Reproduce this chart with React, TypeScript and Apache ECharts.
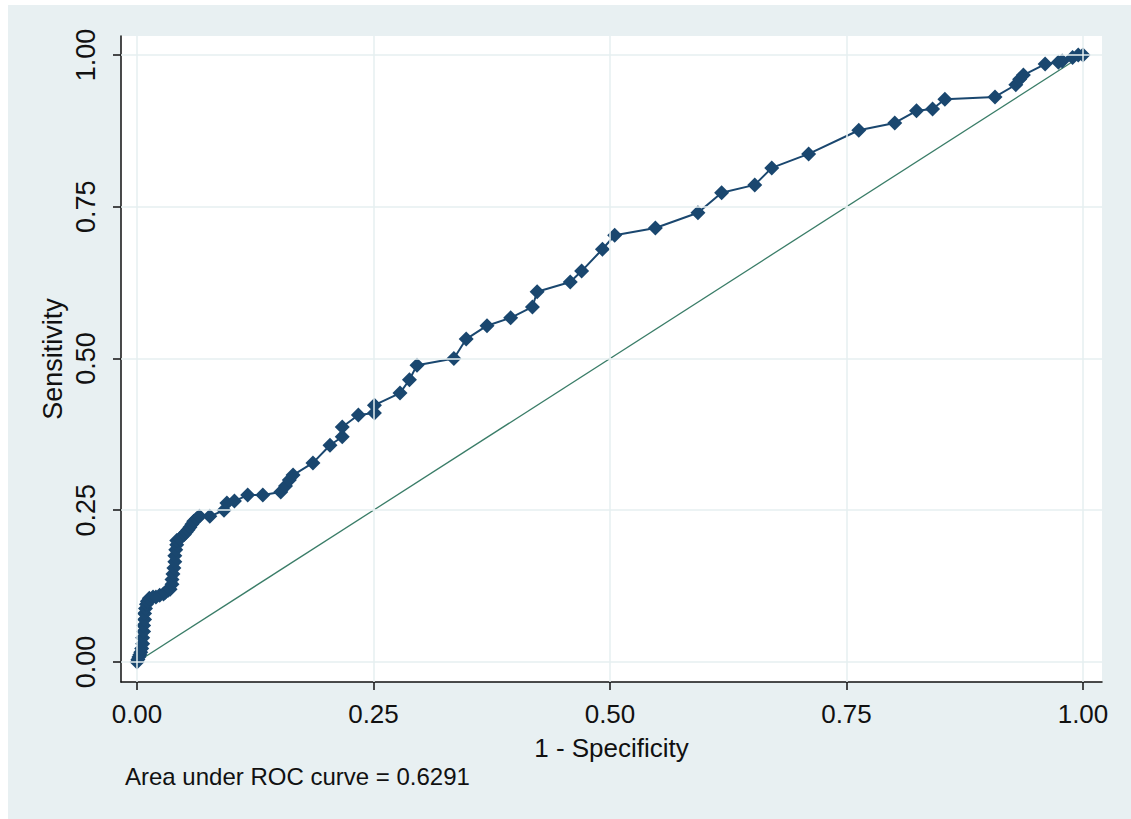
import React, { useEffect, useRef } from "react";
import * as echarts from "echarts";

// ROC curve points (1 - specificity, sensitivity)
const fpr = [
  0, 0.001, 0.002, 0.003, 0.004, 0.005, 0.006, 0.006, 0.007, 0.007, 0.008, 0.008,
  0.009, 0.01, 0.011, 0.013, 0.017, 0.02, 0.024, 0.028,
  0.03, 0.033, 0.035, 0.037, 0.037, 0.038, 0.039, 0.04, 0.04, 0.041, 0.042, 0.042,
  0.045, 0.047, 0.05, 0.052, 0.054, 0.056, 0.058, 0.06, 0.063, 0.066,
  0.077, 0.092, 0.095, 0.103, 0.117, 0.133, 0.152, 0.157, 0.161, 0.165,
  0.186, 0.204, 0.217, 0.217, 0.234, 0.251, 0.251, 0.278, 0.288, 0.296, 0.335,
  0.348, 0.37, 0.395, 0.418, 0.423, 0.458, 0.47, 0.492, 0.505, 0.548, 0.593,
  0.618, 0.653, 0.671, 0.71, 0.763, 0.801, 0.824, 0.841, 0.854, 0.907, 0.929,
  0.933, 0.937, 0.96, 0.974, 0.978, 0.989, 0.995, 1.0,
];
const tpr = [
  0, 0.004, 0.008, 0.012, 0.016, 0.022, 0.03, 0.04, 0.05, 0.06, 0.07, 0.08,
  0.088, 0.095, 0.1, 0.105, 0.107, 0.107, 0.11, 0.112,
  0.115, 0.118, 0.12, 0.128, 0.136, 0.145, 0.155, 0.165, 0.175, 0.185, 0.193, 0.2,
  0.203, 0.206, 0.21, 0.214, 0.218, 0.222, 0.227, 0.232, 0.236, 0.24,
  0.24, 0.25, 0.262, 0.265, 0.275, 0.275, 0.28, 0.29, 0.3, 0.308,
  0.328, 0.357, 0.371, 0.387, 0.407, 0.41, 0.423, 0.443, 0.465, 0.489, 0.5,
  0.532, 0.554, 0.567, 0.585, 0.61, 0.626, 0.644, 0.68, 0.703, 0.715, 0.74,
  0.773, 0.786, 0.814, 0.837, 0.876, 0.888, 0.908, 0.911, 0.927, 0.931, 0.951,
  0.96, 0.967, 0.985, 0.988, 0.99, 0.996, 1.0, 1.0,
];
const refLine = [
  [0, 0],
  [1, 1],
];
const tickValues = [0, 0.25, 0.5, 0.75, 1];
const xName = "1 - Specificity";
const yName = "Sensitivity";
const note = "Area under ROC curve = 0.6291";

const FONT = "'Liberation Sans', Arial, sans-serif";

export default function App() {
  const ref = useRef<HTMLDivElement>(null);
  useEffect(() => {
    const chart = echarts.init(ref.current!, null, { renderer: "svg" });
    const gridLines = [
      ...tickValues.map((v) => ({ xAxis: v })),
      ...tickValues.map((v) => ({ yAxis: v })),
    ];
    chart.setOption({
      animation: false,
      backgroundColor: "#e8f0f2",
      grid: {
        left: 113,
        right: 29,
        top: 31,
        bottom: 137,
        show: true,
        backgroundColor: "#ffffff",
        borderWidth: 0,
      },
      xAxis: {
        type: "value",
        min: -0.0169,
        max: 1.0201,
        name: xName,
        nameLocation: "middle",
        nameGap: 53,
        nameMoveOverlap: false,
        nameTextStyle: { fontFamily: FONT, fontSize: 26, color: "#111" },
        axisLine: { onZero: false, lineStyle: { color: "#111", width: 1.5 } },
        axisTick: { customValues: tickValues, length: 8, lineStyle: { color: "#111", width: 1.5 } },
        axisLabel: {
          customValues: tickValues,
          formatter: (v: number) => v.toFixed(2),
          margin: 19,
          fontFamily: FONT,
          fontSize: 26,
          color: "#111",
        },
        splitLine: { show: false },
      },
      yAxis: {
        type: "value",
        min: -0.033,
        max: 1.0313,
        name: yName,
        nameLocation: "middle",
        nameGap: 55,
        nameMoveOverlap: false,
        nameTextStyle: { fontFamily: FONT, fontSize: 27, color: "#111" },
        axisLine: { onZero: false, lineStyle: { color: "#111", width: 1.5 } },
        axisTick: { customValues: tickValues, length: 8, lineStyle: { color: "#111", width: 1.5 } },
        axisLabel: {
          customValues: tickValues,
          formatter: (v: number) => v.toFixed(2),
          rotate: 90,
          margin: 22,
          fontFamily: FONT,
          fontSize: 27,
          color: "#111",
        },
        splitLine: { show: false },
      },
      graphic: [
        {
          type: "text",
          left: 117,
          top: 759,
          style: { text: note, fontFamily: FONT, fontSize: 24, fill: "#111" },
        },
      ],
      series: [
        {
          type: "line",
          data: [],
          z: 1,
          silent: true,
          markLine: {
            silent: true,
            symbol: ["none", "none"],
            label: { show: false },
            lineStyle: { color: "#e6eff1", width: 1.5, type: "solid" },
            data: gridLines,
          },
        },
        {
          type: "line",
          data: refLine,
          z: 2,
          showSymbol: false,
          symbol: "none",
          lineStyle: { color: "#3a7d68", width: 1.3 },
        },
        {
          type: "line",
          data: fpr.map((x, i) => [x, tpr[i]]),
          z: 3,
          symbol: "diamond",
          symbolSize: 15,
          itemStyle: { color: "#1a476f" },
          lineStyle: { color: "#1a476f", width: 2 },
        },
      ],
    });
    return () => chart.dispose();
  }, []);
  return (
    <div style={{ position: "fixed", left: 0, top: 0, width: 1131, height: 819, background: "#fff" }}>
      <div
        ref={ref}
        style={{ position: "absolute", left: 8, top: 5, width: 1123, height: 814 }}
      />
    </div>
  );
}
